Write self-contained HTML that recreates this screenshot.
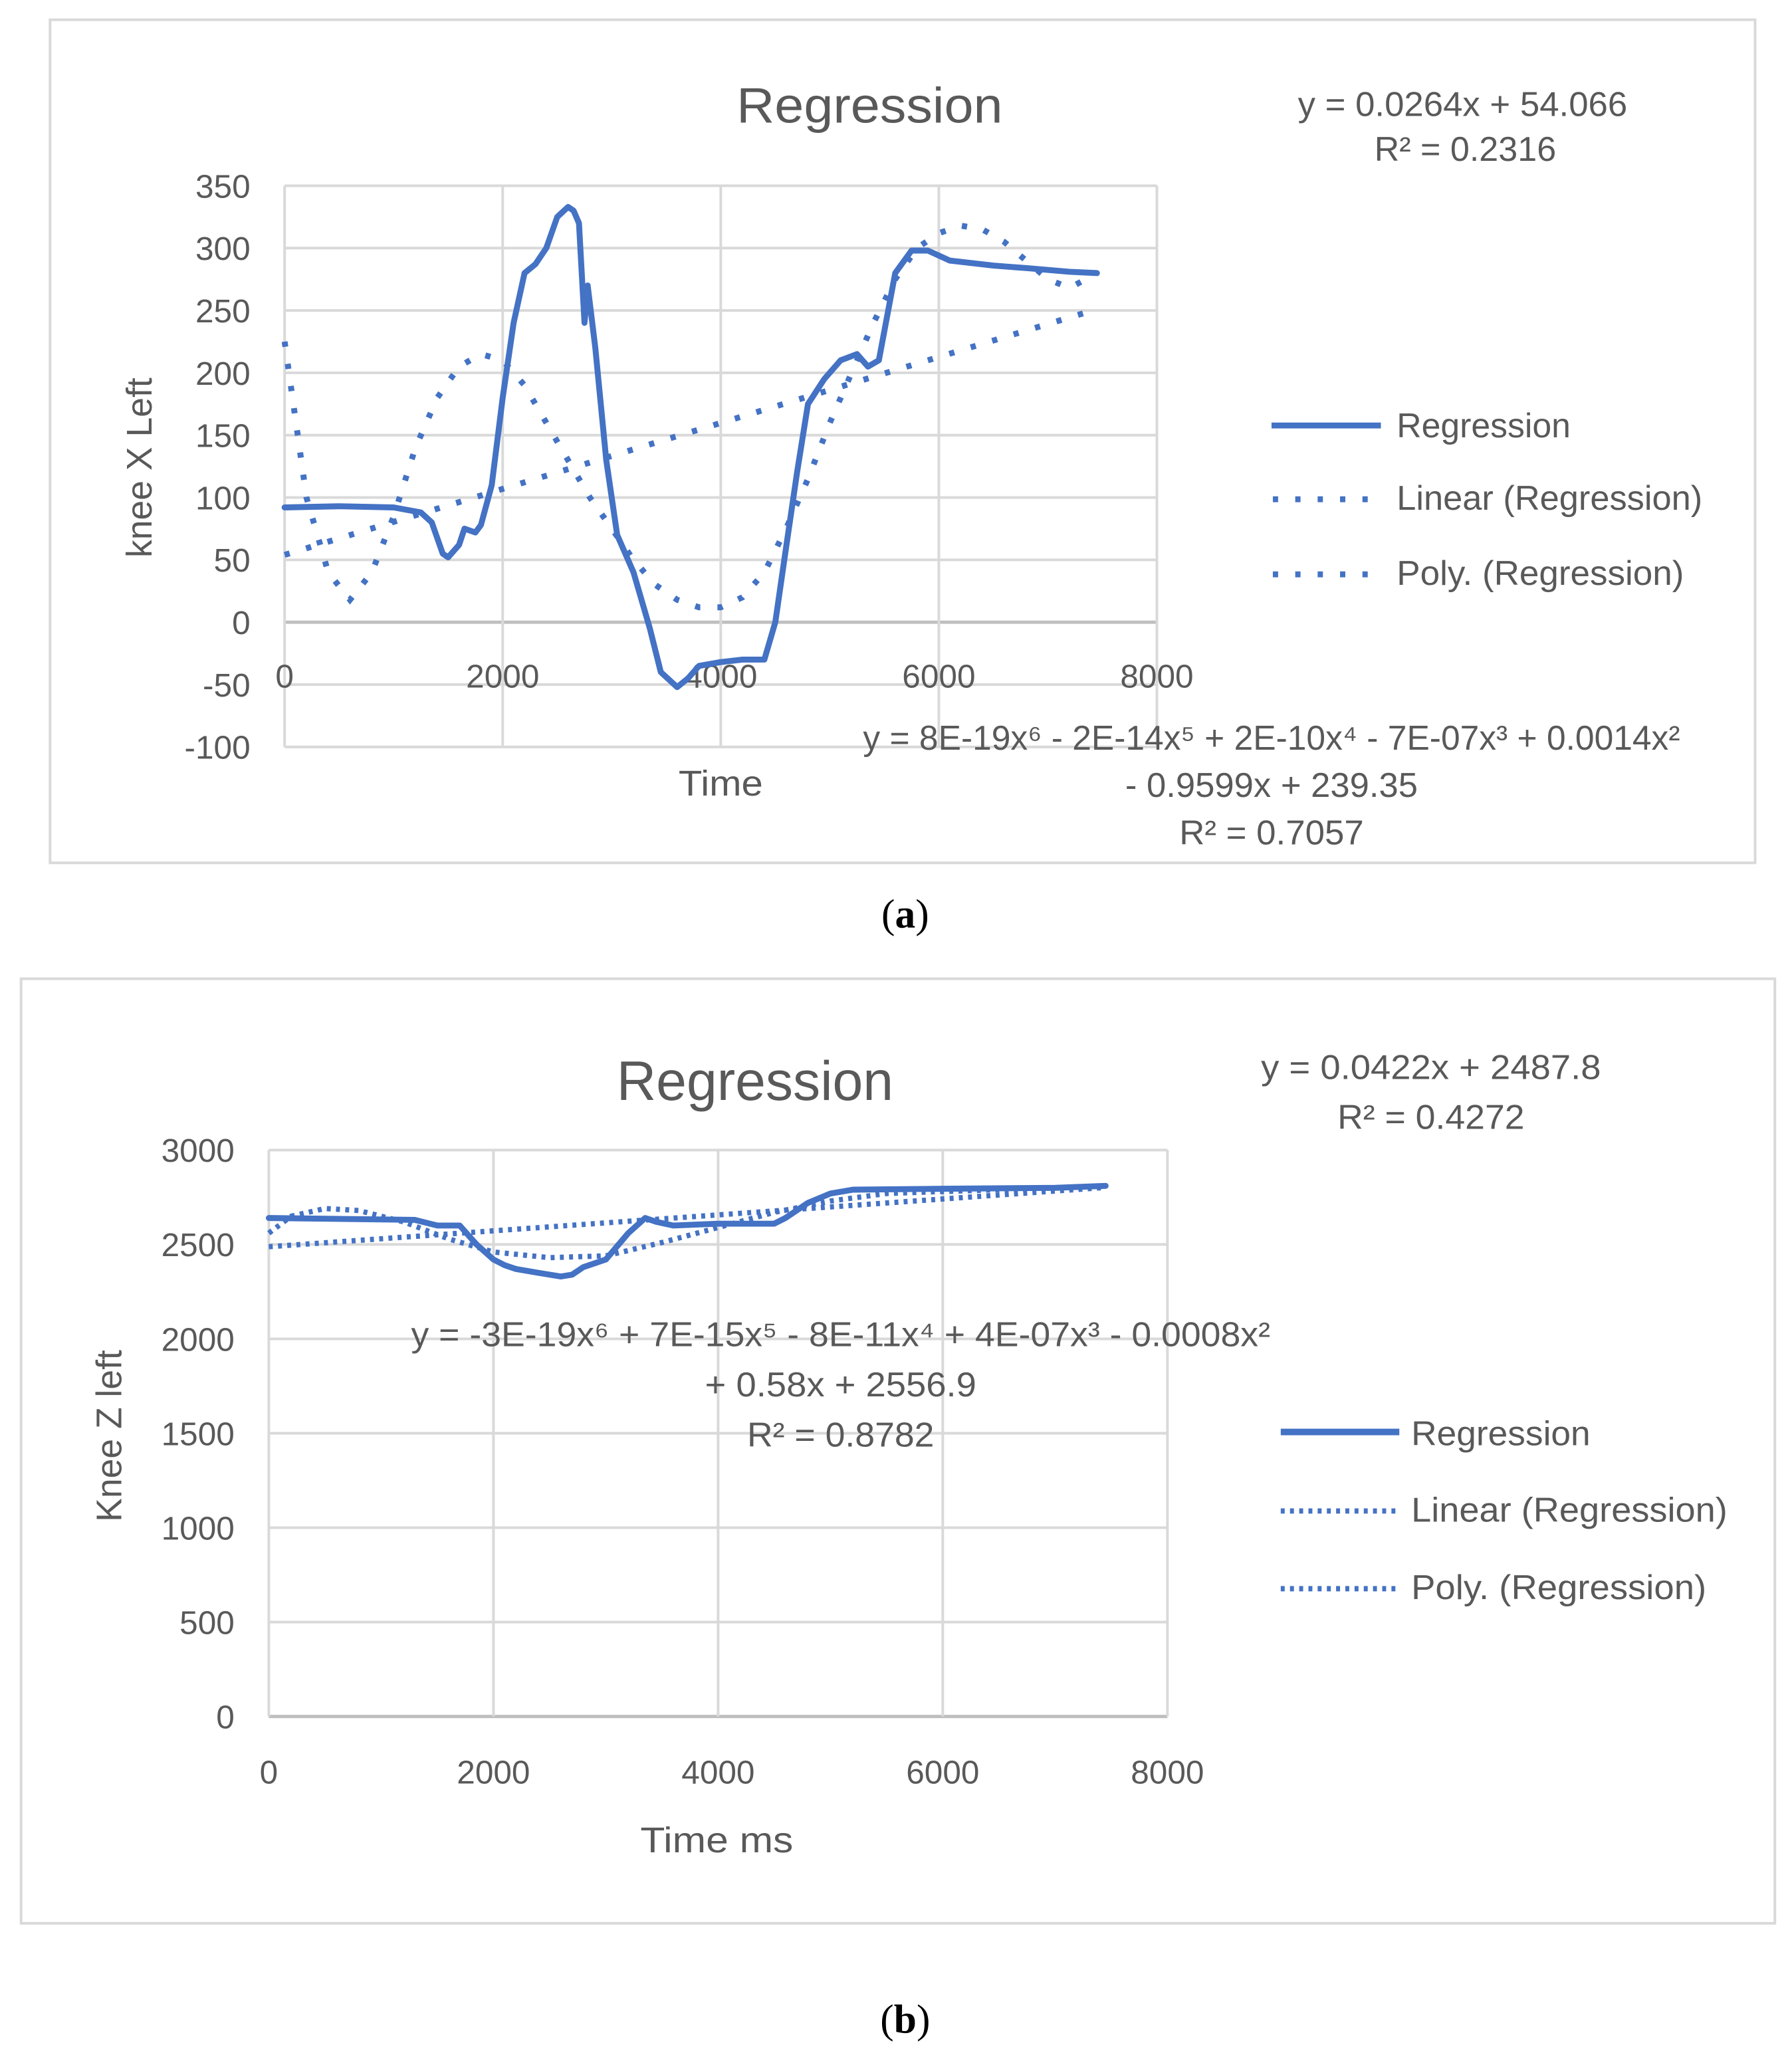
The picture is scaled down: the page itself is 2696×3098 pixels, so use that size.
<!DOCTYPE html>
<html><head><meta charset="utf-8">
<style>
html,body{margin:0;padding:0;background:#fff;}
svg{display:block;}
text{font-family:"Liberation Sans",sans-serif;fill:#595959;}
</style></head>
<body>
<svg id="svg" width="2696" height="3098" viewBox="0 0 1360 1563" preserveAspectRatio="none" xmlns="http://www.w3.org/2000/svg">
  <g id="chartA">
    <rect x="38" y="15" width="1294" height="640" fill="#fff" stroke="#d9d9d9" stroke-width="2"/>
    <g id="gridA"></g>
    <g id="marksA"></g>
    <text x="660" y="93" font-size="38" text-anchor="middle" textLength="202" lengthAdjust="spacingAndGlyphs">Regression</text>
    <text x="1110" y="88" font-size="26" text-anchor="middle" textLength="250" lengthAdjust="spacingAndGlyphs">y = 0.0264x + 54.066</text>
    <text x="1112" y="122" font-size="26" text-anchor="middle" textLength="138" lengthAdjust="spacingAndGlyphs">R² = 0.2316</text>
    <text x="965" y="569" font-size="26" text-anchor="middle" textLength="620" lengthAdjust="spacingAndGlyphs">y = 8E-19x⁶ - 2E-14x⁵ + 2E-10x⁴ - 7E-07x³ + 0.0014x²</text>
    <text x="965" y="605" font-size="26" text-anchor="middle" textLength="222" lengthAdjust="spacingAndGlyphs">- 0.9599x + 239.35</text>
    <text x="965" y="641" font-size="26" text-anchor="middle" textLength="140" lengthAdjust="spacingAndGlyphs">R² = 0.7057</text>
    <text x="547" y="604" font-size="27" text-anchor="middle" textLength="64" lengthAdjust="spacingAndGlyphs">Time</text>
    <text transform="translate(115,355) rotate(-90)" font-size="27" text-anchor="middle">knee X Left</text>
    <g>
      <line x1="965" y1="323" x2="1048" y2="323" stroke="#4472C4" stroke-width="4.5"/>
      <text x="1060" y="332" font-size="26" textLength="132" lengthAdjust="spacingAndGlyphs">Regression</text>
      <line x1="966" y1="379" x2="1048" y2="379" stroke="#4472C4" stroke-width="4.5" stroke-dasharray="4 13"/>
      <text x="1060" y="387" font-size="26" textLength="232" lengthAdjust="spacingAndGlyphs">Linear (Regression)</text>
      <line x1="966" y1="436" x2="1048" y2="436" stroke="#4472C4" stroke-width="4.5" stroke-dasharray="4 13"/>
      <text x="1060" y="444" font-size="26" textLength="218" lengthAdjust="spacingAndGlyphs">Poly. (Regression)</text>
    </g>
  </g>
  <text x="687" y="704" font-size="31" text-anchor="middle" style="font-family:'Liberation Serif',serif;fill:#000">(<tspan font-weight="bold">a</tspan>)</text>

  <g id="chartB">
    <rect x="16" y="743" width="1331" height="717" fill="#fff" stroke="#d9d9d9" stroke-width="2"/>
    <g id="gridB"></g>
    <g id="marksB"></g>
    <text x="573" y="835" font-size="42" text-anchor="middle" textLength="210" lengthAdjust="spacingAndGlyphs">Regression</text>
    <text x="1086" y="819" font-size="26" text-anchor="middle" textLength="258" lengthAdjust="spacingAndGlyphs">y = 0.0422x + 2487.8</text>
    <text x="1086" y="857" font-size="26" text-anchor="middle" textLength="142" lengthAdjust="spacingAndGlyphs">R² = 0.4272</text>
    <text x="638" y="1022" font-size="26" text-anchor="middle" textLength="652" lengthAdjust="spacingAndGlyphs">y = -3E-19x⁶ + 7E-15x⁵ - 8E-11x⁴ + 4E-07x³ - 0.0008x²</text>
    <text x="638" y="1060" font-size="26" text-anchor="middle" textLength="206" lengthAdjust="spacingAndGlyphs">+ 0.58x + 2556.9</text>
    <text x="638" y="1098" font-size="26" text-anchor="middle" textLength="142" lengthAdjust="spacingAndGlyphs">R² = 0.8782</text>
    <text x="544" y="1406" font-size="27" text-anchor="middle" textLength="116" lengthAdjust="spacingAndGlyphs">Time ms</text>
    <text transform="translate(92,1090) rotate(-90)" font-size="27" text-anchor="middle">Knee Z left</text>
    <g>
      <line x1="972" y1="1087" x2="1062" y2="1087" stroke="#4472C4" stroke-width="5"/>
      <text x="1071" y="1097" font-size="26" textLength="136" lengthAdjust="spacingAndGlyphs">Regression</text>
      <line x1="972" y1="1147" x2="1062" y2="1147" stroke="#4472C4" stroke-width="4" stroke-dasharray="3 4"/>
      <text x="1071" y="1155" font-size="26" textLength="240" lengthAdjust="spacingAndGlyphs">Linear (Regression)</text>
      <line x1="972" y1="1206" x2="1062" y2="1206" stroke="#4472C4" stroke-width="4" stroke-dasharray="3 4"/>
      <text x="1071" y="1214" font-size="26" textLength="224" lengthAdjust="spacingAndGlyphs">Poly. (Regression)</text>
    </g>
  </g>
  <text x="687" y="1543" font-size="31" text-anchor="middle" style="font-family:'Liberation Serif',serif;fill:#000">(<tspan font-weight="bold">b</tspan>)</text>
</svg>
<script>
// ---- Chart A data ----
const aXTicks = [0, 2000, 4000, 6000, 8000];
const aYTicks = [-100, -50, 0, 50, 100, 150, 200, 250, 300, 350];
const aRegX = [0,500,1000,1250,1350,1450,1500,1600,1650,1750,1800,1900,2000,2100,2200,2300,2400,2500,2600,2650,2700,2750,2780,2850,2950,3050,3200,3350,3450,3600,3700,3800,4000,4200,4400,4500,4600,4700,4800,4950,5100,5250,5350,5450,5600,5750,5900,6100,6500,6800,7200,7450];
const aRegY = [92,93,92,88,80,55,52,62,75,72,78,110,180,240,280,287,300,325,333,330,320,240,270,220,130,70,40,-5,-40,-52,-45,-35,-32,-30,-30,0,60,120,175,195,210,215,205,210,280,298,298,290,286,284,281,280];
const aPolyX = [0,200,400,600,800,1000,1200,1400,1600,1800,2000,2200,2400,2600,2800,3000,3200,3400,3600,3800,4000,4200,4400,4600,4800,5000,5200,5400,5600,5800,6000,6200,6400,6600,6800,7000,7200,7450];
const aPolyY = [225,100,40,18,40,85,140,180,205,215,210,190,160,130,100,75,50,30,18,12,12,20,40,75,115,160,200,240,275,300,312,318,315,305,290,275,268,280];
const aLinX = [0, 7450];
const aLinY = [54, 251];
// ---- Chart B data ----
const bXTicks = [0, 2000, 4000, 6000, 8000];
const bYTicks = [0, 500, 1000, 1500, 2000, 2500, 3000];
const bRegX = [0,1300,1500,1700,1850,2000,2100,2200,2400,2600,2700,2800,3000,3200,3350,3450,3600,4000,4500,4600,4800,5000,5200,6000,7000,7450];
const bRegY = [2640,2630,2600,2600,2500,2420,2390,2370,2350,2330,2340,2380,2420,2560,2640,2620,2600,2610,2610,2640,2720,2770,2790,2795,2800,2810];
const bPolyX = [0,200,500,800,1200,1600,2000,2500,3000,3500,4000,4500,5000,5500,6000,6500,7000,7450];
const bPolyY = [2560,2650,2690,2680,2620,2530,2460,2430,2440,2510,2590,2670,2730,2770,2780,2790,2800,2810];
const bLinX = [0, 7450];
const bLinY = [2488, 2802];

const NS = 'http://www.w3.org/2000/svg';
function mk(tag, attrs, parent){ const e=document.createElementNS(NS,tag); for(const k in attrs) e.setAttribute(k,attrs[k]); parent.appendChild(e); return e; }
function scale(d0,d1,r0,r1){ return v => r0 + (v-d0)/(d1-d0)*(r1-r0); }

function drawChart(cfg){
  const sx = scale(cfg.xMin,cfg.xMax,cfg.x0,cfg.x1);
  const sy = scale(cfg.yMin,cfg.yMax,cfg.y0,cfg.y1);
  const grid = document.getElementById(cfg.grid), marks = document.getElementById(cfg.marks);
  cfg.yTicks.forEach(t=>{
    const l = mk('line',{x1:cfg.x0,x2:cfg.x1,y1:sy(t),y2:sy(t),stroke: t===0&&cfg.zeroDark?'#bfbfbf':'#d9d9d9','stroke-width':t===0&&cfg.zeroDark?2.5:2},grid);
    
    
    const tx = mk('text',{x:cfg.x0-26,y:sy(t)+9,'font-size':25,'text-anchor':'end'},grid);
    tx.textContent = t;
    
    
  });
  cfg.xTicks.forEach(t=>{
    const l = mk('line',{x1:sx(t),x2:sx(t),y1:cfg.y1,y2:cfg.y0,stroke:'#d9d9d9','stroke-width':2},grid);
    
    
    const tx = mk('text',{x:sx(t),y:cfg.xLabelY,'font-size':25,'text-anchor':'middle'},grid);
    tx.textContent = t;
    
    
  });
  function path(xs,ys){ return xs.map((x,i)=>(i?'L':'M')+sx(x).toFixed(1)+','+sy(ys[i]).toFixed(1)).join(''); }
  const lin = mk('path',{d:path(cfg.linX,cfg.linY),fill:'none',stroke:'#4472C4','stroke-width':cfg.dotW,'stroke-dasharray':cfg.dash,'stroke-linecap':'butt'},marks);
  
  
  const poly = mk('path',{d:path(cfg.polyX,cfg.polyY),fill:'none',stroke:'#4472C4','stroke-width':cfg.dotW,'stroke-dasharray':cfg.dash},marks);
  
  
  const reg = mk('path',{d:path(cfg.regX,cfg.regY),fill:'none',stroke:'#4472C4','stroke-width':cfg.regW,'stroke-linejoin':'round','stroke-linecap':'round'},marks);
  
  
}
drawChart({grid:'gridA',marks:'marksA',xMin:0,xMax:8000,x0:216,x1:878,yMin:-100,yMax:350,y0:567,y1:141,
  xTicks:aXTicks,yTicks:aYTicks,xLabelY:522,zeroDark:true,regX:aRegX,regY:aRegY,polyX:aPolyX,polyY:aPolyY,linX:aLinX,linY:aLinY,dash:'4 13',dotW:4.5,regW:4.5});
drawChart({grid:'gridB',marks:'marksB',xMin:0,xMax:8000,x0:204,x1:886,yMin:0,yMax:3000,y0:1303,y1:873,
  xTicks:bXTicks,yTicks:bYTicks,xLabelY:1354,zeroDark:true,regX:bRegX,regY:bRegY,polyX:bPolyX,polyY:bPolyY,linX:bLinX,linY:bLinY,dash:'3 4',dotW:4,regW:4.5});
</script>
</body></html>
